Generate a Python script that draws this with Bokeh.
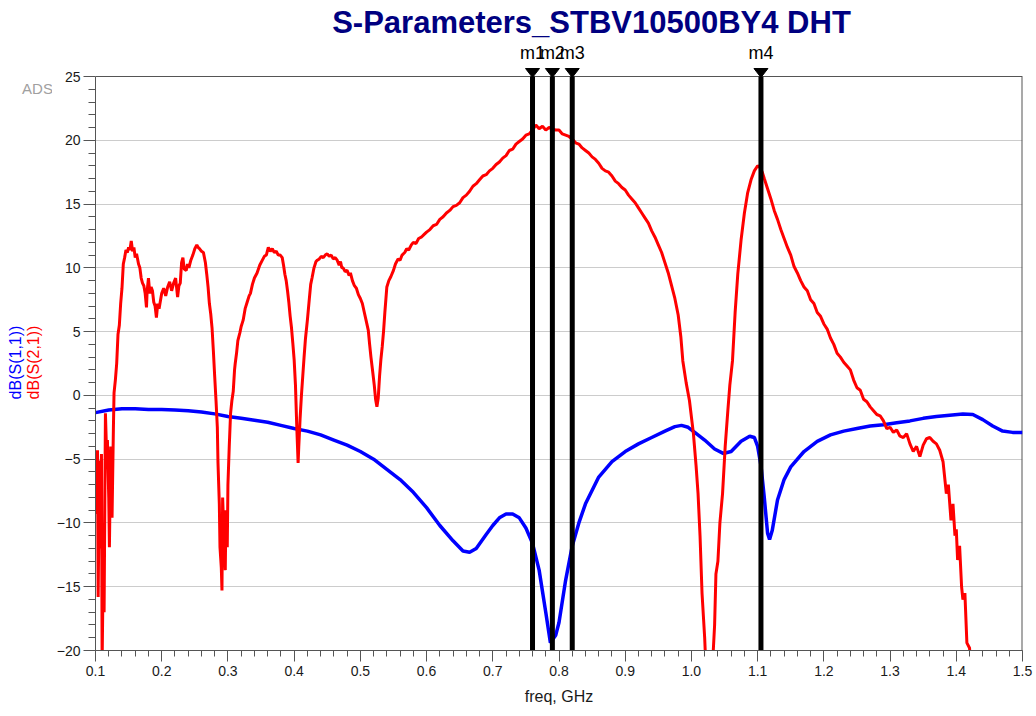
from bokeh.plotting import figure
from bokeh.layouts import row
from bokeh.models import Range1d, SingleIntervalTicker, FixedTicker, NumeralTickFormatter
from bokeh.core.properties import value
from bokeh.embed import file_html
from bokeh.resources import INLINE
import math

# ---------------- data ----------------
s21_f = [0.100, 0.101, 0.103, 0.104, 0.106, 0.107, 0.109, 0.110, 0.112, 0.113, 0.115, 0.117, 0.118, 0.120,
         0.121, 0.123, 0.124, 0.125, 0.127, 0.128, 0.130, 0.132, 0.134, 0.136, 0.138, 0.140, 0.142, 0.144,
         0.146, 0.148, 0.150, 0.152, 0.154, 0.156, 0.158, 0.160, 0.162, 0.165, 0.167, 0.169, 0.171, 0.173,
         0.175, 0.177, 0.178, 0.180, 0.182, 0.184, 0.186, 0.188, 0.190, 0.192, 0.194, 0.196, 0.198, 0.200,
         0.203, 0.206, 0.209, 0.212, 0.215, 0.218, 0.221, 0.224, 0.226, 0.228, 0.230, 0.232, 0.234, 0.237,
         0.239, 0.241, 0.244, 0.247, 0.250, 0.253, 0.255, 0.257, 0.260, 0.263, 0.266, 0.268, 0.270, 0.272,
         0.274, 0.276, 0.278, 0.280, 0.282, 0.284, 0.285, 0.287, 0.288, 0.290, 0.291, 0.292, 0.294, 0.296,
         0.297, 0.299, 0.300, 0.302, 0.304, 0.306, 0.308, 0.310, 0.311, 0.313, 0.315, 0.318, 0.320, 0.323,
         0.326, 0.329, 0.332, 0.334, 0.337, 0.340, 0.344, 0.348, 0.352, 0.355, 0.358, 0.361, 0.364, 0.367,
         0.370, 0.373, 0.376, 0.379, 0.382, 0.384, 0.386, 0.388, 0.390, 0.392, 0.394, 0.396, 0.398, 0.400,
         0.402, 0.404, 0.406, 0.407, 0.409, 0.411, 0.413, 0.415, 0.417, 0.420, 0.423, 0.425, 0.427, 0.430,
         0.433, 0.435, 0.438, 0.441, 0.444, 0.447, 0.450, 0.453, 0.456, 0.459, 0.462, 0.465, 0.468, 0.470,
         0.472, 0.474, 0.477, 0.480, 0.483, 0.485, 0.488, 0.491, 0.494, 0.497, 0.500, 0.503, 0.506, 0.509,
         0.512, 0.514, 0.516, 0.519, 0.521, 0.523, 0.525, 0.527, 0.529, 0.531, 0.533, 0.535, 0.537, 0.540,
         0.543, 0.546, 0.550, 0.553, 0.557, 0.560, 0.563, 0.567, 0.570, 0.573, 0.577, 0.580, 0.584, 0.588,
         0.592, 0.596, 0.600, 0.605, 0.610, 0.615, 0.620, 0.625, 0.630, 0.635, 0.640, 0.645, 0.650, 0.655,
         0.660, 0.665, 0.670, 0.675, 0.680, 0.685, 0.690, 0.695, 0.700, 0.705, 0.710, 0.715, 0.720, 0.725,
         0.730, 0.735, 0.740, 0.745, 0.750, 0.755, 0.760, 0.765, 0.770, 0.775, 0.780, 0.785, 0.790, 0.795,
         0.800, 0.805, 0.810, 0.815, 0.820, 0.825, 0.830, 0.835, 0.840, 0.845, 0.850, 0.855, 0.860, 0.865,
         0.870, 0.875, 0.880, 0.885, 0.890, 0.895, 0.900, 0.905, 0.910, 0.915, 0.920, 0.925, 0.930, 0.935,
         0.940, 0.945, 0.950, 0.955, 0.960, 0.965, 0.970, 0.975, 0.980, 0.984, 0.987, 0.992, 0.997, 1.003,
         1.007, 1.010, 1.013, 1.016, 1.020, 1.024, 1.028, 1.033, 1.035, 1.037, 1.040, 1.043, 1.047, 1.051,
         1.055, 1.058, 1.062, 1.066, 1.070, 1.075, 1.080, 1.085, 1.090, 1.095, 1.100, 1.103, 1.107, 1.110,
         1.115, 1.120, 1.125, 1.130, 1.135, 1.140, 1.145, 1.150, 1.155, 1.160, 1.165, 1.170, 1.175, 1.180,
         1.185, 1.190, 1.195, 1.200, 1.205, 1.210, 1.215, 1.220, 1.225, 1.230, 1.235, 1.240, 1.245, 1.250,
         1.255, 1.260, 1.265, 1.270, 1.275, 1.280, 1.285, 1.290, 1.295, 1.300, 1.305, 1.310, 1.315, 1.320,
         1.325, 1.330, 1.335, 1.340, 1.345, 1.350, 1.355, 1.360, 1.365, 1.370, 1.375, 1.380, 1.385, 1.388,
         1.392, 1.395, 1.398, 1.400, 1.402, 1.405, 1.408, 1.410, 1.413, 1.416, 1.420, 1.423]
s21_db = [-7.2, -9.3, -4.3, -15.8, -5.1, -12.0, -4.6, -21.0, -11.9, -17.0, -1.4, -5.0, -3.5, -8.0,
          -11.9, -4.0, -5.3, -9.6, -2.7, 0.2, 1.2, 2.5, 4.8, 5.5, 7.2, 8.4, 10.3, 10.8,
          11.4, 11.2, 11.6, 11.4, 12.1, 11.3, 11.6, 10.8, 11.1, 10.3, 10.0, 9.2, 8.8, 8.6,
          8.0, 6.9, 8.2, 9.2, 8.0, 8.5, 8.2, 7.3, 7.0, 6.1, 7.2, 6.8, 7.4, 8.0,
          8.4, 7.8, 8.5, 8.9, 8.2, 8.8, 9.2, 7.7, 8.6, 8.8, 10.4, 10.8, 9.9, 9.8,
          10.3, 10.0, 10.6, 11.0, 11.5, 11.8, 11.6, 11.5, 11.3, 11.2, 10.4, 9.5, 8.5, 7.2,
          6.4, 5.3, 3.5, 1.5, -0.4, -2.5, -5.3, -8.5, -11.9, -13.5, -15.3, -8.0, -11.0, -13.7,
          -9.0, -11.9, -7.0, -4.0, -1.4, -0.4, 0.3, 2.0, 2.5, 3.3, 4.3, 4.9, 5.4, 5.9,
          6.8, 7.3, 7.8, 8.0, 8.7, 9.2, 9.6, 10.2, 10.6, 10.9, 11.0, 11.6, 11.3, 11.5,
          11.2, 11.3, 11.0, 11.0, 10.8, 10.2, 9.5, 9.0, 8.2, 7.3, 6.2, 5.3, 4.1, 2.8,
          0.8, -2.5, -5.3, -4.0, -1.8, 0.0, 1.5, 3.0, 4.4, 5.9, 7.6, 8.7, 9.2, 10.0,
          10.5, 10.6, 10.7, 10.9, 10.8, 11.0, 11.1, 10.9, 11.0, 10.7, 10.8, 10.6, 10.2, 10.5,
          10.0, 10.0, 9.7, 9.8, 9.4, 9.6, 9.0, 8.6, 8.4, 7.9, 7.6, 7.2, 6.5, 5.8,
          5.1, 4.0, 3.0, 1.7, 0.8, -0.3, -0.9, -0.2, 1.5, 2.8, 3.8, 5.0, 6.5, 8.5,
          9.0, 9.3, 9.8, 10.3, 10.7, 10.6, 11.0, 11.2, 11.5, 11.4, 11.8, 12.0, 11.9, 12.3,
          12.4, 12.6, 12.8, 13.0, 13.3, 13.4, 13.8, 14.0, 14.3, 14.5, 14.8, 14.9, 15.1, 15.5,
          15.7, 16.0, 16.4, 16.6, 16.9, 17.2, 17.3, 17.6, 17.8, 18.1, 18.3, 18.6, 18.8, 19.2,
          19.3, 19.7, 19.9, 20.1, 20.4, 20.5, 20.8, 21.2, 20.9, 21.1, 20.8, 21.0, 20.9, 20.8,
          20.8, 20.5, 20.4, 20.3, 20.1, 19.8, 19.7, 19.4, 19.2, 19.0, 18.7, 18.5, 18.2, 17.8,
          17.6, 17.5, 17.2, 16.8, 16.6, 16.3, 16.1, 15.7, 15.4, 15.1, 14.7, 14.3, 13.9, 13.5,
          12.9, 12.4, 11.8, 11.2, 10.4, 9.6, 8.6, 7.6, 6.3, 4.6, 2.7, 1.0, -0.4, -3.0,
          -5.5, -7.7, -11.0, -15.5, -19.0, -24.0, -24.0, -20.0, -18.0, -14.0, -13.0, -10.0, -7.7, -4.0,
          -1.2, 0.8, 2.7, 6.5, 9.5, 12.2, 14.3, 15.9, 16.9, 17.6, 18.0, 17.9, 17.5, 17.0,
          16.2, 15.4, 14.5, 13.8, 13.0, 12.3, 11.6, 11.0, 10.1, 9.6, 9.0, 8.5, 8.2, 7.5,
          7.2, 6.5, 6.2, 5.6, 5.2, 4.5, 4.0, 3.3, 3.0, 2.6, 2.3, 2.0, 1.2, 0.6,
          0.4, -0.3, -0.5, -0.9, -1.2, -1.5, -1.6, -2.0, -2.6, -2.5, -2.9, -2.7, -3.2, -3.3,
          -3.0, -3.8, -4.4, -4.0, -4.8, -3.9, -3.4, -3.3, -3.6, -3.8, -4.3, -5.2, -7.7, -7.0,
          -9.8, -8.5, -11.0, -10.5, -12.9, -11.8, -15.0, -16.0, -15.5, -19.4, -19.8, -22.0]

s11_f = [0.10, 0.12, 0.14, 0.16, 0.18, 0.20, 0.22, 0.24, 0.26, 0.28, 0.30, 0.32, 0.34, 0.36, 0.38,
         0.40, 0.42, 0.44, 0.46, 0.48, 0.50, 0.52, 0.54, 0.56, 0.58, 0.60, 0.62, 0.64, 0.655, 0.665,
         0.675, 0.69, 0.70, 0.71, 0.72, 0.73, 0.74, 0.75, 0.76, 0.77, 0.78, 0.787, 0.795, 0.80, 0.81,
         0.82, 0.83, 0.84, 0.86, 0.88, 0.90, 0.92, 0.94, 0.96, 0.975, 0.985, 0.995, 1.005, 1.02, 1.035,
         1.048, 1.06, 1.075, 1.088, 1.095, 1.10, 1.105, 1.11, 1.115, 1.118, 1.122, 1.13, 1.14, 1.15,
         1.17, 1.19, 1.21, 1.23, 1.25, 1.27, 1.29, 1.31, 1.33, 1.35, 1.37, 1.39, 1.41, 1.425, 1.44,
         1.455, 1.47, 1.485, 1.50]
s11_db = [-1.35, -1.15, -1.05, -1.05, -1.1, -1.1, -1.15, -1.2, -1.3, -1.45, -1.65, -1.8, -1.95, -2.1, -2.35,
          -2.6, -2.8, -3.1, -3.5, -3.9, -4.4, -5.0, -5.8, -6.6, -7.6, -8.8, -10.2, -11.4, -12.2, -12.3,
          -12.0, -10.9, -10.2, -9.6, -9.3, -9.3, -9.6, -10.4, -11.6, -13.7, -17.0, -19.4, -18.8, -17.8, -14.5,
          -11.8, -10.0, -8.5, -6.4, -5.2, -4.4, -3.8, -3.3, -2.8, -2.45, -2.35, -2.5, -2.9, -3.5, -4.2,
          -4.55, -4.4, -3.6, -3.2, -3.3, -4.0, -5.5, -8.0, -10.8, -11.3, -10.6, -8.2, -6.6, -5.6,
          -4.4, -3.6, -3.1, -2.8, -2.6, -2.4, -2.3, -2.15, -2.0, -1.8, -1.65, -1.55, -1.45, -1.5, -1.9,
          -2.4, -2.8, -2.9, -2.9]

marker_names = ["m1", "m2", "m3", "m4"]
marker_freq = [0.76, 0.79, 0.82, 1.105]

title_text = "S-Parameters_STBV10500BY4 DHT"
x_label = "freq, GHz"
y_labels = ["dB(S(1,1))", "dB(S(2,1))"]
y_label_colors = ["#0000ff", "#ff0000"]
y_major = [-20, -15, -10, -5, 0, 5, 10, 15, 20, 25]
y_minor = [v for v in range(-20, 26) if v % 5 != 0]

# ---------------- layout constants (px) ----------------
H = 716
LW = 52                               # width of the left label strip
W = 1036 - LW                         # width of the chart figure
FL, FR, FT, FB = 95 - LW, 1022 - LW, 0, 650
Y_AX_TOP = 76                         # canvas y of the 25 dB line
X0, X1, Y0, Y1 = 0.1, 1.5, -20, 25
pxx = (FR - FL) / (X1 - X0)
pxy = (FB - Y_AX_TOP) / (Y1 - Y0)
Y_TOP = Y1 + (Y_AX_TOP - FT) / pxy     # frame extends above the 25 dB line

FONT = "Liberation Sans"
AXC = "#555555"

# ---------------- left strip with the axis titles (frame spans canvas y 0..FB) ----------------
left = figure(width=LW, height=H, output_backend="svg", toolbar_location=None,
              x_range=Range1d(0, LW), y_range=Range1d(0, FB),
              x_axis_location=None, y_axis_location=None,
              min_border_left=0, min_border_right=0, min_border_top=FT, min_border_bottom=H - FB)
left.outline_line_color = None
left.xgrid.visible = False
left.ygrid.visible = False
left.text(x=[37], y=[FB - 88], text=["ADS"], text_align="center", text_baseline="middle",
          text_font=value(FONT), text_font_size="15px", text_color="#a0a0a0")
left.text(x=[15, 33], y=[FB - 362, FB - 362], text=y_labels, angle=math.pi / 2,
          text_align="center", text_baseline="middle", text_font=value(FONT),
          text_font_size="16px", text_color=y_label_colors)

# ---------------- chart ----------------
p = figure(width=W, height=H, output_backend="svg", toolbar_location=None,
           x_range=Range1d(X0, X1), y_range=Range1d(Y0, Y_TOP),
           min_border_left=FL, min_border_right=W - FR, min_border_top=FT, min_border_bottom=H - FB)
p.background_fill_color = "white"
p.border_fill_color = "white"
p.outline_line_color = None

p.xaxis.ticker = SingleIntervalTicker(interval=0.1, num_minor_ticks=5)
p.xaxis.formatter = NumeralTickFormatter(format="0.0")
p.yaxis.ticker = FixedTicker(ticks=y_major, minor_ticks=y_minor)
p.yaxis.bounds = (Y0, Y1)
for ax in (p.xaxis, p.yaxis):
    ax.axis_line_color = AXC
    ax.major_tick_line_color = AXC
    ax.minor_tick_line_color = AXC
    ax.major_tick_in = 0
    ax.minor_tick_in = 0
    ax.major_label_text_font = FONT
    ax.major_label_text_font_size = "14px"
    ax.major_label_text_color = "#1a1a1a"
p.xaxis.major_tick_out = 11
p.xaxis.minor_tick_out = 6
p.xaxis.major_label_standoff = 4
p.xaxis.axis_label = x_label
p.xaxis.axis_label_text_font = FONT
p.xaxis.axis_label_text_font_size = "16px"
p.xaxis.axis_label_text_font_style = "normal"
p.xaxis.axis_label_text_color = "#1a1a1a"
p.xaxis.axis_label_standoff = 9
p.yaxis.major_tick_out = 12
p.yaxis.minor_tick_out = 7
p.yaxis.major_label_standoff = 3

p.xgrid.visible = False
p.ygrid.grid_line_color = "#cccccc"
p.ygrid.grid_line_width = 1

# frame border (top at 25 dB, right at 1.5 GHz)
p.segment(x0=[X0, X1], y0=[Y1, Y0], x1=[X1, X1], y1=[Y1, Y1], line_color=AXC, line_width=[1, 2])

p.line(s11_f, s11_db, line_color="#0000ff", line_width=3.5)
p.line(s21_f, s21_db, line_color="#ff0000", line_width=3)

# markers
n = len(marker_freq)
p.segment(x0=marker_freq, y0=[Y0] * n, x1=marker_freq, y1=[Y1] * n, line_color="black", line_width=5)
hw = 7 / pxx
p.patches(xs=[[f - hw, f + hw, f] for f in marker_freq],
          ys=[[Y1 + 8 / pxy, Y1 + 8 / pxy, Y1 - 1 / pxy] for f in marker_freq],
          fill_color="black", line_color="black")
p.text(x=marker_freq, y=[Y1 + 24 / pxy] * n, text=marker_names, text_align="center",
       text_baseline="middle", text_font=value(FONT), text_font_size="18px", text_color="black")

# title
p.text(x=[X0 + (591 - 95) / pxx], y=[Y1 + 54 / pxy], text=[title_text], text_align="center",
       text_baseline="middle", text_font=value(FONT), text_font_style="bold",
       text_font_size="31px", text_color="#000080")

open("out.html", "w").write(file_html(row(left, p), INLINE))
